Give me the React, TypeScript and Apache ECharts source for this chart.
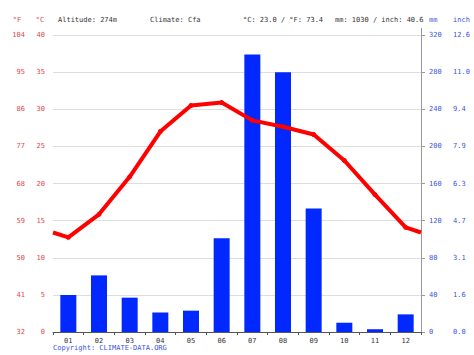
import React, { useEffect, useRef } from "react";
import * as echarts from "echarts";

const months = ["01", "02", "03", "04", "05", "06", "07", "08", "09", "10", "11", "12"];
const precipitationMm = [40, 61, 37, 21, 23, 101, 299, 280, 133, 10, 3, 19];
const temperatureC = [12.75, 15.85, 20.9, 27.0, 30.5, 30.9, 28.5, 27.65, 26.6, 23.1, 18.5, 14.1];
const edgeTempStart = 13.4;
const edgeTempEnd = 13.4;
const headerTexts = [
  { text: "°F", x: 17, color: "#e0474c", align: "center" },
  { text: "°C", x: 40, color: "#e0474c", align: "center" },
  { text: "Altitude: 274m", x: 58, color: "#333333", align: "left" },
  { text: "Climate: Cfa", x: 150, color: "#333333", align: "left" },
  { text: "°C: 23.0 / °F: 73.4", x: 243, color: "#333333", align: "left" },
  { text: "mm: 1030 / inch: 40.6", x: 335, color: "#333333", align: "left" },
  { text: "mm", x: 429, color: "#3a55e0", align: "left" },
  { text: "inch", x: 453, color: "#3a55e0", align: "left" },
];
const copyright = "Copyright: CLIMATE-DATA.ORG";

const FONT = "DejaVu Sans Mono";
const RED_TXT = "#e0474c";
const BLUE_TXT = "#3a55e0";

export default function App() {
  const ref = useRef<HTMLDivElement>(null);
  useEffect(() => {
    if (!ref.current) return;
    const chart = echarts.init(ref.current, null, { renderer: "svg" });
    const lineData: any[] = [{ value: [0, edgeTempStart], symbolSize: 0 }];
    temperatureC.forEach((t, i) => lineData.push({ value: [i + 0.5, t] }));
    lineData.push({ value: [12, edgeTempEnd], symbolSize: 0 });

    const option: any = {
      animation: false,
      backgroundColor: "#ffffff",
      textStyle: { fontFamily: FONT },
      grid: { left: 53, right: 53, top: 35, bottom: 23 },
      xAxis: [
        {
          type: "category",
          data: months,
          boundaryGap: true,
          axisLine: { lineStyle: { color: "#555555", width: 1 } },
          axisTick: { show: true, length: 3, lineStyle: { color: "#555555" } },
          axisLabel: { color: "#333333", fontFamily: FONT, fontSize: 7, margin: 5 },
        },
        { type: "value", min: 0, max: 12, show: false },
      ],
      yAxis: [
        {
          type: "value",
          min: 0,
          max: 40,
          interval: 5,
          position: "left",
          axisLine: { show: false },
          axisTick: { show: false },
          splitLine: { show: true, lineStyle: { color: "#dddddd", width: 1 } },
          axisLabel: { color: RED_TXT, fontFamily: FONT, fontSize: 7, margin: 8 },
        },
        {
          type: "value",
          min: 32,
          max: 104,
          interval: 9,
          position: "left",
          offset: 20,
          axisLine: { show: false },
          axisTick: { show: false },
          splitLine: { show: false },
          axisLabel: { color: RED_TXT, fontFamily: FONT, fontSize: 7, margin: 8 },
        },
        {
          type: "value",
          min: 0,
          max: 320,
          interval: 40,
          position: "right",
          axisLine: { show: true, lineStyle: { color: "#999999", width: 1 } },
          axisTick: { show: true, length: 4, lineStyle: { color: "#999999" } },
          splitLine: { show: false },
          axisLabel: { color: BLUE_TXT, fontFamily: FONT, fontSize: 7, margin: 8 },
        },
        {
          type: "value",
          min: 0,
          max: 320,
          interval: 40,
          position: "right",
          offset: 24,
          axisLine: { show: false },
          axisTick: { show: false },
          splitLine: { show: false },
          axisLabel: {
            color: BLUE_TXT,
            fontFamily: FONT,
            fontSize: 7,
            margin: 8,
            formatter: (v: number) => (v / 25.4).toFixed(1),
          },
        },
      ],
      series: [
        {
          type: "bar",
          data: precipitationMm,
          xAxisIndex: 0,
          yAxisIndex: 2,
          barWidth: 16,
          itemStyle: { color: "#0028ff" },
        },
        {
          type: "line",
          data: lineData,
          xAxisIndex: 1,
          yAxisIndex: 0,
          symbol: "circle",
          symbolSize: 5,
          lineStyle: { color: "#ff0000", width: 4 },
          itemStyle: { color: "#ff0000" },
          z: 5,
        },
      ],
      graphic: [
        ...headerTexts.map((h) => ({
          type: "text",
          x: h.x,
          y: 20,
          style: {
            text: h.text,
            fill: h.color,
            font: `7px "${FONT}"`,
            textAlign: h.align,
            textVerticalAlign: "middle",
          },
        })),
        {
          type: "line",
          shape: { x1: 421.5, y1: 28, x2: 421.5, y2: 35 },
          style: { stroke: "#999999", lineWidth: 1 },
        },
        {
          type: "text",
          x: 53,
          y: 348,
          style: {
            text: copyright,
            fill: BLUE_TXT,
            font: `7px "${FONT}"`,
            textAlign: "left",
            textVerticalAlign: "middle",
          },
        },
      ],
    };
    chart.setOption(option);
    return () => chart.dispose();
  }, []);
  return (
    <div
      ref={ref}
      style={{ position: "fixed", left: 0, top: 0, width: 474, height: 355 }}
    />
  );
}
